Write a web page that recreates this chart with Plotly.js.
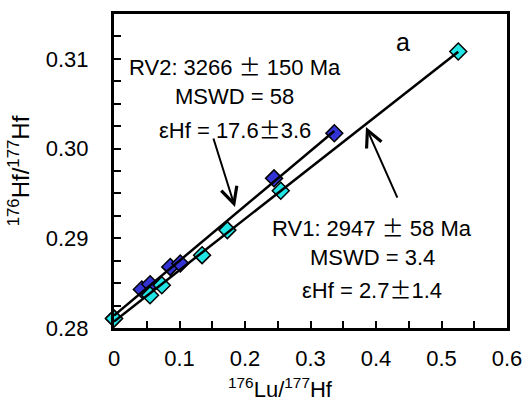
<!DOCTYPE html>
<html>
<head>
<meta charset="utf-8">
<script src="https://cdn.plot.ly/plotly-3.0.1.min.js"></script>
<style>
  html, body { margin: 0; padding: 0; background: #ffffff; }
  #chart { width: 525px; height: 401px; }
</style>
</head>
<body>
<div id="chart"></div>
<script>
// RV1 (cyan) 176Lu/177Hf and 176Hf/177Hf values
const rv1Lu = [0.000, 0.055, 0.073, 0.1345, 0.173, 0.2546, 0.5256];
const rv1Hf = [0.28105, 0.28365, 0.28477, 0.28812, 0.29091, 0.29530, 0.31082];
// RV2 (blue)
const rv2Lu = [0.000, 0.0425, 0.0552, 0.0859, 0.1012, 0.2443, 0.3364];
const rv2Hf = [0.28105, 0.28429, 0.28488, 0.28681, 0.28719, 0.29668, 0.30171];

const xTickVals = [0, 0.1, 0.2, 0.3, 0.4, 0.5, 0.6];
const xTickText = ["0", "0.1", "0.2", "0.3", "0.4", "0.5", "0.6"];
const yTickVals = [0.28, 0.29, 0.30, 0.31];
const yTickText = ["0.28", "0.29", "0.30", "0.31"];

const PM = "<span style='font-family:\"Noto Sans CJK JP\"'>±</span>";
const rv2Label = ["RV2: 3266 " + PM + " 150 Ma", "MSWD = 58", "εHf = 17.6" + PM + "3.6"];
const rv1Label = ["RV1: 2947 " + PM + " 58 Ma", "MSWD = 3.4", "εHf = 2.7" + PM + "1.4"];

function fit(xs, ys) {
  const n = xs.length;
  const mx = xs.reduce((a, b) => a + b, 0) / n;
  const my = ys.reduce((a, b) => a + b, 0) / n;
  let sxy = 0, sxx = 0;
  for (let i = 0; i < n; i++) { sxy += (xs[i] - mx) * (ys[i] - my); sxx += (xs[i] - mx) ** 2; }
  const slope = sxy / sxx;
  const icpt = my - slope * mx;
  const x0 = Math.min(...xs), x1 = Math.max(...xs);
  return { x: [x0, x1], y: [icpt + slope * x0, icpt + slope * x1] };
}
const rv1Fit = fit(rv1Lu, rv1Hf);
const rv2Fit = fit(rv2Lu, rv2Hf);

const FONT = "Liberation Sans, Arial, sans-serif";

const traces = [
  { x: rv2Lu, y: rv2Hf, type: "scatter", mode: "markers", name: "RV2", cliponaxis: false,
    marker: { symbol: "diamond", size: 13, color: "#3434d6", line: { color: "#000", width: 1.5 } } },
  { x: rv1Lu, y: rv1Hf, type: "scatter", mode: "markers", name: "RV1", cliponaxis: false,
    marker: { symbol: "diamond", size: 13, color: "#22e6e6", line: { color: "#000", width: 1.5 } } },
  { x: rv2Fit.x, y: rv2Fit.y, type: "scatter", mode: "lines", name: "RV2 isochron",
    line: { color: "#000", width: 2.5 } },
  { x: rv1Fit.x, y: rv1Fit.y, type: "scatter", mode: "lines", name: "RV1 isochron",
    line: { color: "#000", width: 2.5 } }
];

function textAnn(t, x, y) {
  return { text: t, x: x, y: y, xref: "x", yref: "y", showarrow: false,
           xanchor: "center", yanchor: "middle", font: { family: FONT, size: 22, color: "#000" } };
}

const annotations = [
  textAnn(rv2Label[0], 0.1847, 0.30933),
  textAnn(rv2Label[1], 0.1847, 0.30576),
  textAnn(rv2Label[2], 0.1847, 0.30230),
  textAnn(rv1Label[0], 0.3939, 0.29136),
  textAnn(rv1Label[1], 0.3939, 0.28790),
  textAnn(rv1Label[2], 0.3939, 0.28443),
  { text: "a", x: 0.4412, y: 0.3119, xref: "x", yref: "y", showarrow: false,
    font: { family: FONT, size: 25, color: "#000" } },
  { text: "", x: 0.1847, y: 0.29348, ax: 0.1511, ay: 0.30129, xref: "x", yref: "y",
    axref: "x", ayref: "y", showarrow: true, arrowhead: 5, arrowsize: 1.6, arrowwidth: 2, arrowcolor: "#000" },
  { text: "", x: 0.3847, y: 0.30241, ax: 0.4336, ay: 0.29437, xref: "x", yref: "y",
    axref: "x", ayref: "y", showarrow: true, arrowhead: 5, arrowsize: 1.6, arrowwidth: 2, arrowcolor: "#000" },
  { text: "<sup>176</sup>Lu/<sup>177</sup>Hf", xref: "paper", yref: "paper", x: 0.4224, y: -0.2420,
    xanchor: "center", yanchor: "bottom", showarrow: false, font: { family: FONT, size: 22, color: "#000" } }
];

const layout = {
  width: 525, height: 401,
  margin: { l: 114, r: 18, t: 14, b: 73 },
  paper_bgcolor: "#fff", plot_bgcolor: "#fff",
  showlegend: false,
  font: { family: FONT, size: 22, color: "#000" },
  xaxis: {
    range: [0, 0.6], tickvals: xTickVals, ticktext: xTickText,
    showgrid: false, zeroline: false, showline: true, linewidth: 3, linecolor: "#000", mirror: true,
    ticks: "inside", ticklen: 7, tickwidth: 2, tickcolor: "#000", ticklabelstandoff: 9,
    minor: { dtick: 0.05, ticks: "inside", ticklen: 7, tickwidth: 2, tickcolor: "#000", showgrid: false },
    tickfont: { family: FONT, size: 22, color: "#000" }
  },
  yaxis: {
    range: [0.28, 0.315], tickvals: yTickVals, ticktext: yTickText,
    showgrid: false, zeroline: false, showline: true, linewidth: 3, linecolor: "#000", mirror: true,
    ticks: "inside", ticklen: 7, tickwidth: 2, tickcolor: "#000", ticklabelstandoff: 18,
    minor: { dtick: 0.0025, ticks: "inside", ticklen: 7, tickwidth: 2, tickcolor: "#000", showgrid: false },
    tickfont: { family: FONT, size: 22, color: "#000" },
    title: { text: "<sup>176</sup>Hf/<sup>177</sup>Hf", font: { family: FONT, size: 24, color: "#000" }, standoff: 10 }
  },
  annotations: annotations
};

Plotly.newPlot("chart", traces, layout, { displayModeBar: false, staticPlot: true });
</script>
</body>
</html>
